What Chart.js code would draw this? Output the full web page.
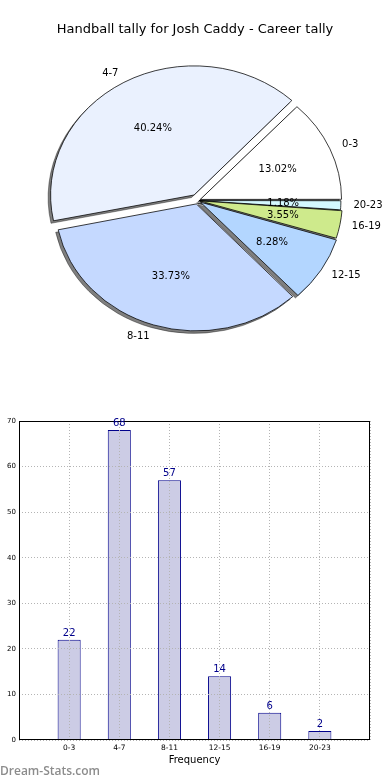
<!DOCTYPE html>
<html>
<head>
<meta charset="utf-8">
<script src="https://cdn.jsdelivr.net/npm/chart.js@4"></script>
<style>
  body { margin: 0; background: #fff; width: 390px; height: 780px; position: relative; overflow: hidden; }
  #title { position: absolute; left: 0; top: 21px; width: 390px; text-align: center; font: 13px "DejaVu Sans"; color: #000; }
  #pie-chart { position: absolute; left: 0; top: 0; }
  #tally-chart { position: absolute; left: 0; top: 400px; }
  #watermark { position: absolute; left: 0; top: 762px; font: 600 12px "Open Sans"; color: #8c8c8c; }
</style>
</head>
<body>
<canvas id="pie-chart" width="390" height="400"></canvas>
<div id="title">Handball tally for Josh Caddy - Career tally</div>
<canvas id="tally-chart" width="390" height="380"></canvas>
<div id="watermark">Dream-Stats.com</div>
<script>
// Data
const categories = ["0-3", "4-7", "8-11", "12-15", "16-19", "20-23"];
const tallies = [22, 68, 57, 14, 6, 2];
const yMax = 70;
const yStep = 10;

// Styles
const sliceColors = ["#ffffff", "#eaf1fe", "#c5d9ff", "#b3d6ff", "#ceea8c", "#d4f8ff"];
const sliceOffsets = [12, 28, 16, 14, 10, 6];
const squash = 0.9;

Chart.defaults.font.family = "DejaVu Sans";
Chart.defaults.color = "#000";

// Pie chart (matplotlib goes anti-clockwise from 3 o'clock, so reverse)
const total = tallies.reduce((a, b) => a + b, 0);
const pieLabels = categories.slice().reverse();
const pieValues = tallies.slice().reverse();

function squashAround(ctx, arc) {
  ctx.translate(arc.x, arc.y);
  ctx.scale(1, squash);
  ctx.translate(-arc.x, -arc.y);
}

const ellipse = {
  id: "ellipse",
  beforeDatasetsDraw(chart) {
    const arcs = chart.getDatasetMeta(0).data;
    const ctx = chart.ctx;
    // shadow pass: draw slices far off-canvas, only their shadows land here
    ctx.save();
    squashAround(ctx, arcs[0]);
    ctx.translate(-10000, 0);
    ctx.shadowColor = "rgba(0, 0, 0, 0.5)";
    ctx.shadowOffsetX = 10000 - 2.5;
    ctx.shadowOffsetY = 2.5;
    ctx.shadowBlur = 0;
    arcs.forEach((a) => a.draw(ctx));
    ctx.restore();

    ctx.save();
    squashAround(ctx, arcs[0]);
  },
  afterDatasetsDraw(chart) {
    chart.ctx.restore();
  },
};

const pieText = {
  id: "pieText",
  afterDatasetsDraw(chart) {
    const ctx = chart.ctx;
    const meta = chart.getDatasetMeta(0);
    ctx.save();
    ctx.font = "10px DejaVu Sans";
    ctx.fillStyle = "#000";
    ctx.textBaseline = "middle";
    meta.data.forEach((arc, i) => {
      const mid = (arc.startAngle + arc.endAngle) / 2;
      const shift = (arc.options.offset || 0) / 4;
      const cx = arc.x + Math.cos(mid) * shift;
      const cy = arc.y + Math.sin(mid) * shift;
      const r = arc.outerRadius;
      const put = (d) => [cx + Math.cos(mid) * r * d, arc.y + (cy - arc.y + Math.sin(mid) * r * d) * squash];

      let [px, py] = put(0.6);
      ctx.textAlign = "center";
      ctx.fillText(((pieValues[i] / total) * 100).toFixed(2) + "%", px, py);

      [px, py] = put(1.1);
      ctx.textAlign = Math.cos(mid) >= 0 ? "left" : "right";
      ctx.fillText(pieLabels[i], px, py);
    });
    ctx.restore();
  },
};

new Chart(document.getElementById("pie-chart"), {
  type: "pie",
  data: {
    labels: pieLabels,
    datasets: [
      {
        data: pieValues,
        backgroundColor: sliceColors.slice().reverse(),
        offset: sliceOffsets.slice().reverse(),
        borderColor: "#000",
        borderWidth: 0.8,
        radius: 140.5,
      },
    ],
  },
  options: {
    responsive: false,
    animation: false,
    events: [],
    rotation: 90,
    layout: { padding: { left: 5, top: 1, bottom: 0 } },
    plugins: {
      legend: { display: false },
      tooltip: { enabled: false },
    },
  },
  plugins: [ellipse, pieText],
});

// Bar chart
const barLabels = ["", ...categories, ""];
const barValues = [null, ...tallies, null];

const frameAndValues = {
  id: "frameAndValues",
  afterDraw(chart) {
    const ctx = chart.ctx;
    const { left, top, right, bottom } = chart.chartArea;
    ctx.save();
    ctx.strokeStyle = "#000";
    ctx.lineWidth = 1;
    ctx.strokeRect(left + 0.5, top + 0.5, right - left - 1, bottom - top - 1);

    ctx.font = "10px DejaVu Sans";
    ctx.fillStyle = "#00008b";
    ctx.textAlign = "center";
    ctx.textBaseline = "alphabetic";
    chart.getDatasetMeta(0).data.forEach((bar, i) => {
      if (barValues[i] === null) return;
      ctx.fillText(barValues[i], bar.x, bar.y - 4);
    });
    ctx.restore();
  },
};

new Chart(document.getElementById("tally-chart"), {
  type: "bar",
  data: {
    labels: barLabels,
    datasets: [
      {
        data: barValues,
        backgroundColor: "#ccccE5",
        borderColor: "#00008b",
        borderWidth: 1,
        barPercentage: 0.46,
        categoryPercentage: 1,
      },
    ],
  },
  options: {
    responsive: false,
    animation: false,
    events: [],
    layout: { padding: { top: 21, right: 20, left: 0, bottom: 0 } },
    scales: {
      x: {
        type: "category",
        offset: false,
        grid: { offset: false, color: "#b4b4b4", drawTicks: false, z: 1 },
        border: { display: false, dash: [1, 2] },
        ticks: { autoSkip: false, maxRotation: 0, padding: 4, font: { size: 7.5 } },
        title: { display: true, text: "Frequency", font: { size: 10 }, padding: { top: 0, bottom: 14 } },
        afterFit(scale) {
          scale.height = 40;
        },
      },
      y: {
        min: 0,
        max: yMax,
        grid: { color: "#b4b4b4", drawTicks: false, z: 1 },
        border: { display: false, dash: [1, 2] },
        ticks: { stepSize: yStep, padding: 3, font: { size: 7 } },
        afterFit(scale) {
          scale.width = 19;
        },
      },
    },
    plugins: {
      legend: { display: false },
      tooltip: { enabled: false },
    },
  },
  plugins: [frameAndValues],
});
</script>
</body>
</html>
